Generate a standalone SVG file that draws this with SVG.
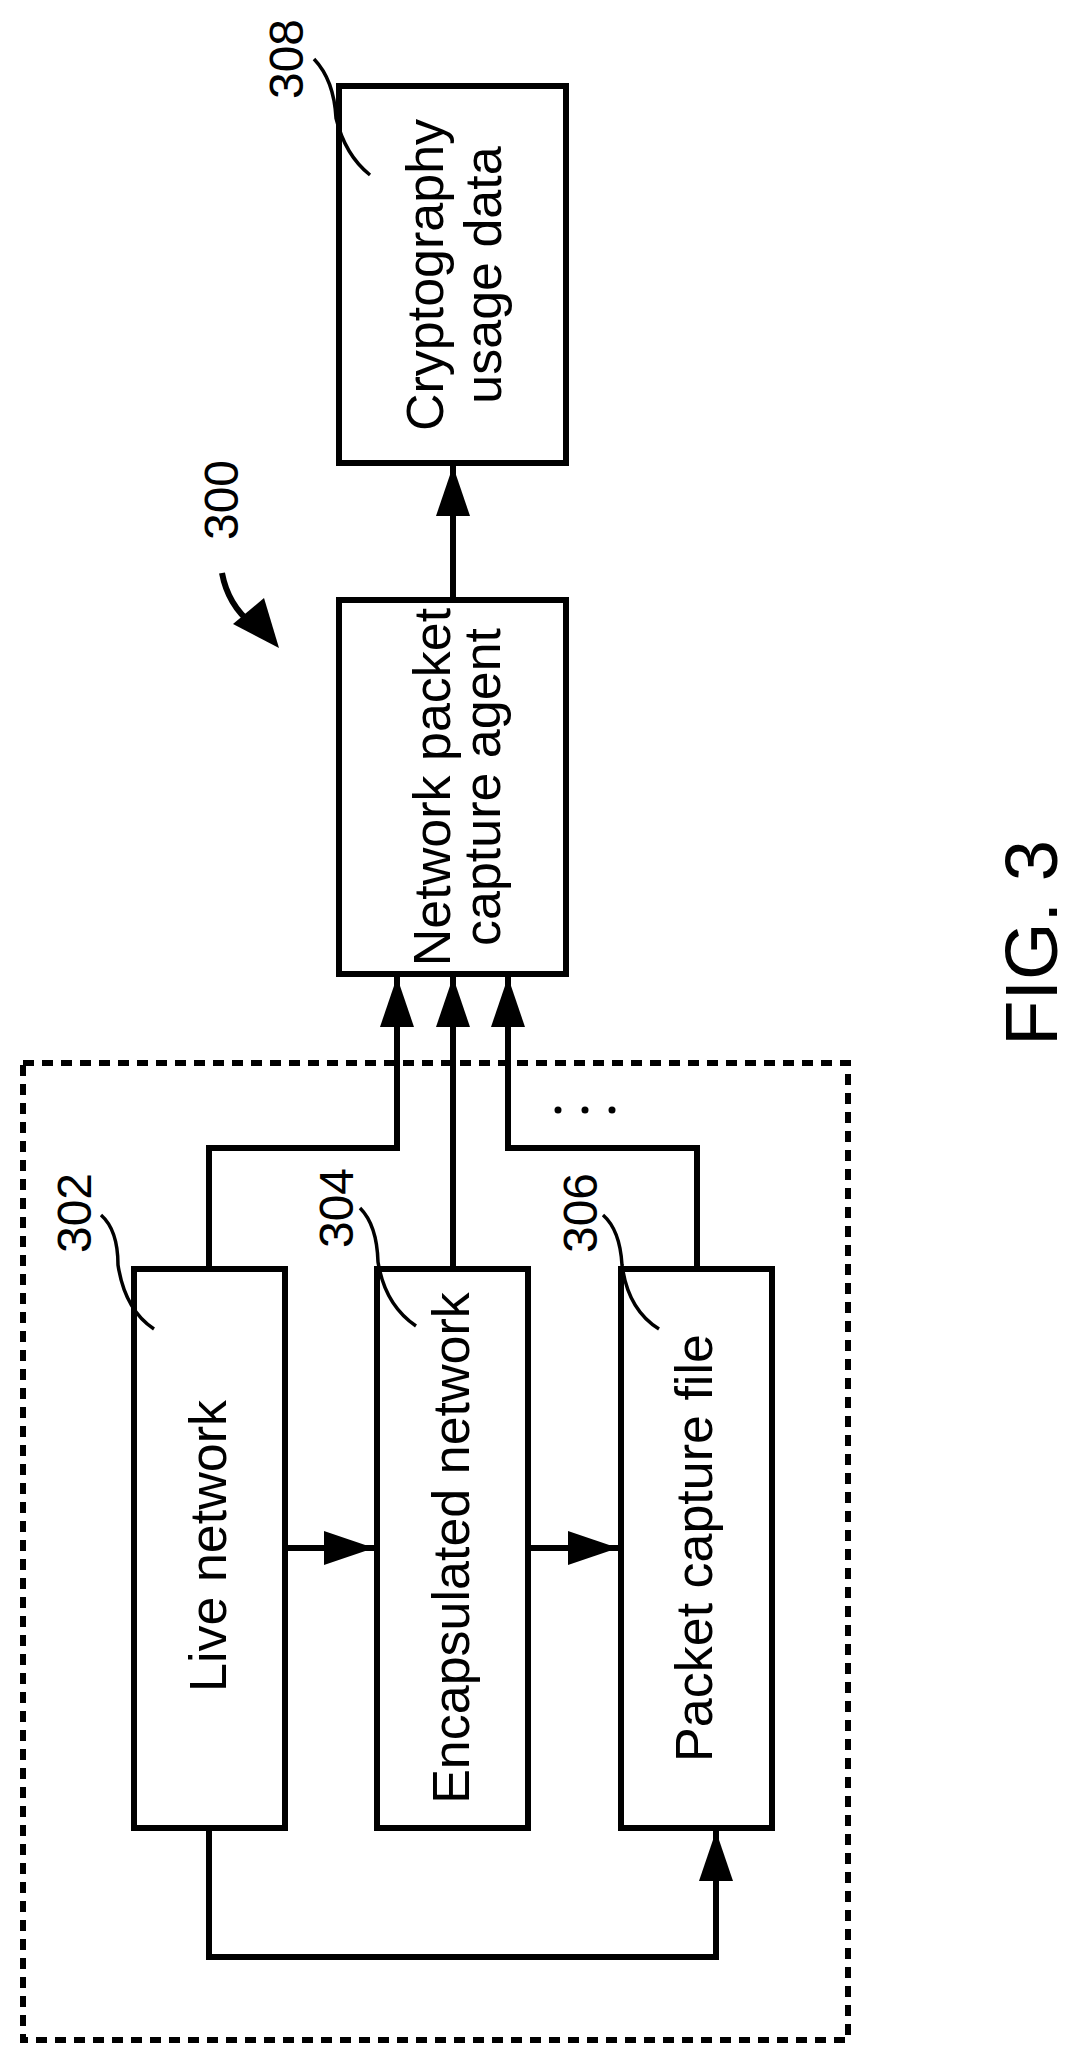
<svg xmlns="http://www.w3.org/2000/svg" width="1077" height="2064" viewBox="0 0 1077 2064">
<defs>
<style>
.box{fill:#fff;stroke:#000;stroke-width:6}
.ln{fill:none;stroke:#000;stroke-width:6}
.lead{fill:none;stroke:#000;stroke-width:3.5}
.t{font-family:"Liberation Sans",Arial,sans-serif;font-size:52px;text-anchor:middle;fill:#000}
.n{font-family:"Liberation Sans",Arial,sans-serif;font-size:48px;text-anchor:middle;fill:#000}
</style>
<marker id="ah" viewBox="0 0 50 34" refX="50" refY="17" markerWidth="50" markerHeight="34" markerUnits="userSpaceOnUse" orient="auto"><path d="M0,0 L50,17 L0,34 Z" fill="#000"/></marker>
</defs>
<rect x="23" y="1063" width="825" height="977" fill="none" stroke="#000" stroke-width="6" stroke-dasharray="11,8"/>
<g id="connectors">
<line class="ln" x1="453" y1="600" x2="453" y2="466" marker-end="url(#ah)"/>
<polyline class="ln" points="209,1269 209,1148 397,1148 397,977" marker-end="url(#ah)"/>
<line class="ln" x1="453" y1="1269" x2="453" y2="977" marker-end="url(#ah)"/>
<polyline class="ln" points="697,1269 697,1148 508,1148 508,977" marker-end="url(#ah)"/>
<line class="ln" x1="285" y1="1548" x2="374" y2="1548" marker-end="url(#ah)"/>
<line class="ln" x1="528" y1="1548" x2="618" y2="1548" marker-end="url(#ah)"/>
<polyline class="ln" points="209,1828 209,1957 716,1957 716,1831" marker-end="url(#ah)"/>
<path class="ln" d="M222,573 Q228,605 252,624"/>
<path d="M233,624 L264,598 L279,648 Z" fill="#000"/>
</g>
<g id="n308"><rect class="box" x="339" y="86" width="227" height="377"/>
<text class="t" transform="translate(443,275) rotate(-90)">Cryptography</text>
<text class="t" transform="translate(501,275) rotate(-90)">usage data</text>
<text class="n" transform="translate(303,59) rotate(-90)">308</text>
<path class="lead" d="M314,59 Q334,80 336,118 Q345,155 370,175"/></g>
<g id="nagent"><rect class="box" x="339" y="600" width="227" height="374"/>
<text class="t" transform="translate(450,787) rotate(-90)">Network packet</text>
<text class="t" transform="translate(500,787) rotate(-90)">capture agent</text></g>
<g id="n300"><text class="n" transform="translate(238,500) rotate(-90)">300</text></g>
<g id="n302"><rect class="box" x="134" y="1269" width="151" height="559"/>
<text class="t" transform="translate(226,1546) rotate(-90)">Live network</text>
<text class="n" transform="translate(91,1213) rotate(-90)">302</text>
<path class="lead" d="M101,1215 Q118,1230 118,1265 Q125,1310 154,1329"/></g>
<g id="n304"><rect class="box" x="377" y="1269" width="151" height="559"/>
<text class="t" transform="translate(469,1548) rotate(-90)">Encapsulated network</text>
<text class="n" transform="translate(353,1208) rotate(-90)">304</text>
<path class="lead" d="M360,1208 Q377,1225 378,1262 Q385,1305 416,1326"/></g>
<g id="n306"><rect class="box" x="621" y="1269" width="151" height="559"/>
<text class="t" transform="translate(712,1548) rotate(-90)">Packet capture file</text>
<text class="n" transform="translate(597,1213) rotate(-90)">306</text>
<path class="lead" d="M603,1215 Q620,1230 622,1265 Q628,1310 659,1329"/></g>
<g id="dots"><circle cx="558" cy="1110" r="3.5"/><circle cx="585" cy="1110" r="3.5"/><circle cx="612" cy="1110" r="3.5"/></g>
<text transform="translate(1057,943) rotate(-90)" font-family="'Liberation Sans',Arial,sans-serif" font-size="74" text-anchor="middle">FIG. 3</text>
</svg>
